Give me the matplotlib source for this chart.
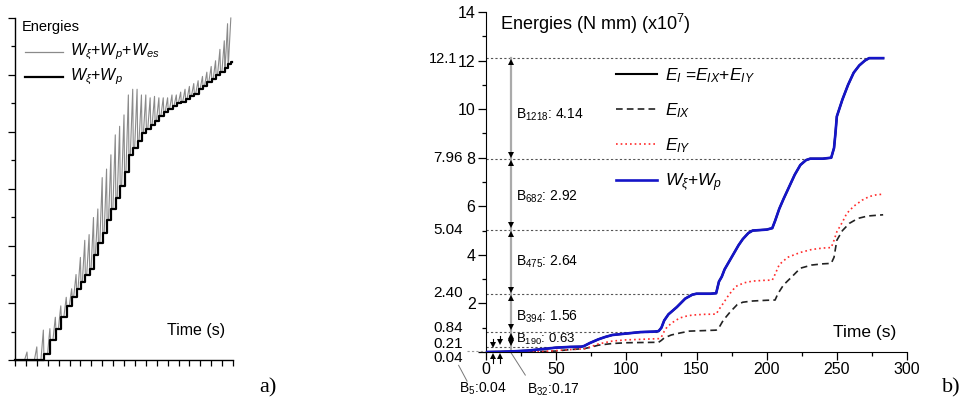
import matplotlib
matplotlib.use('Agg')
import matplotlib.pyplot as plt
from matplotlib.lines import Line2D
from matplotlib.ticker import MultipleLocator

plt.rcParams['font.family'] = ['Liberation Sans', 'DejaVu Sans']
plt.rcParams['mathtext.fontset'] = 'custom'
plt.rcParams['mathtext.rm'] = 'Liberation Sans'
plt.rcParams['mathtext.it'] = 'Liberation Sans:italic'
plt.rcParams['mathtext.bf'] = 'Liberation Sans:bold'

# ---------------- Panel a data (sawtooth cycles) ----------------
cyc_t = [1.1, 2.0, 2.6, 3.2, 3.7, 4.2, 4.7, 5.2, 5.6, 6.0, 6.4, 6.8, 7.2, 7.6,
         8.0, 8.4, 8.8, 9.2, 9.6, 10.0, 10.4, 10.8, 11.2, 11.6, 12.0, 12.4,
         12.8, 13.2, 13.6, 14.0, 14.4, 14.8, 15.2, 15.6, 16.0, 16.4, 16.8,
         17.2, 17.6, 18.0, 18.4, 18.8, 19.2, 19.5, 19.8]
cyc_peak = [0.28, 0.46, 1.05, 1.1, 1.5, 1.9, 2.2, 2.5, 3.0, 3.6, 4.2, 4.4, 5.0, 5.3,
            6.4, 6.7, 7.2, 7.9, 8.2, 8.6, 9.3, 9.5, 9.5, 9.3, 9.3, 9.2,
            9.25, 9.2, 9.2, 9.2, 9.3, 9.3, 9.4, 9.5, 9.6, 9.7, 9.8,
            9.95, 10.1, 10.3, 10.5, 10.9, 11.2, 11.8, 12.0]
cyc_base = [0.0, 0.0, 0.0, 0.2, 0.7, 1.1, 1.5, 1.9, 2.2, 2.5, 2.75, 3.0, 3.2, 3.7,
            4.1, 4.45, 4.9, 5.3, 5.7, 6.1, 6.6, 7.2, 7.45, 7.7, 7.95, 8.1,
            8.25, 8.4, 8.55, 8.7, 8.8, 8.9, 9.0, 9.05, 9.15, 9.25, 9.35,
            9.5, 9.6, 9.75, 9.85, 10.0, 10.1, 10.25, 10.4]
a_final_level = 10.45
a_end_t = 19.95

# ---------------- Panel b data ----------------
w_t = [0, 10, 20, 30, 40, 50, 60, 68, 70, 74, 80, 85, 90, 100, 110, 120, 123,
       125, 127, 130, 136, 142, 147, 150, 160, 164, 166, 168, 170, 175, 180,
       183, 187, 190, 200, 204, 206, 209, 212, 216, 220, 224, 228, 231, 240,
       246, 248, 249, 250, 254, 258, 262, 266, 270, 273, 283]
w_v = [0, 0.01, 0.03, 0.06, 0.12, 0.18, 0.21, 0.22, 0.25, 0.37, 0.52, 0.62,
       0.7, 0.76, 0.82, 0.84, 0.86, 1.0, 1.3, 1.55, 1.85, 2.2, 2.36, 2.40,
       2.40, 2.42, 2.9, 3.1, 3.4, 3.9, 4.4, 4.65, 4.9, 5.0, 5.04, 5.1, 5.4,
       5.9, 6.3, 6.8, 7.3, 7.7, 7.9, 7.96, 7.96, 8.0, 8.4, 9.0, 9.7, 10.4,
       11.0, 11.5, 11.8, 12.0, 12.1, 12.1]

iy_t = [0, 20, 40, 50, 60, 70, 74, 80, 90, 100, 110, 123, 125, 127, 129, 133,
        138, 143, 147, 155, 164, 166, 169, 173, 178, 184, 190, 198, 204, 206,
        209, 215, 224, 232, 240, 246, 248, 250, 254, 257, 262, 268, 273, 278,
        283]
iy_v = [0, 0.0, 0.02, 0.06, 0.1, 0.13, 0.2, 0.33, 0.45, 0.5, 0.52, 0.55, 0.62,
        0.85, 1.03, 1.22, 1.4, 1.48, 1.52, 1.55, 1.56, 1.75, 2.0, 2.35, 2.7,
        2.85, 2.92, 2.95, 2.96, 3.2, 3.6, 3.9, 4.1, 4.22, 4.28, 4.3, 4.6,
        4.95, 5.35, 5.7, 6.0, 6.25, 6.4, 6.47, 6.5]

ix_t = [0, 30, 50, 60, 70, 75, 80, 90, 100, 110, 123, 125, 127, 132, 138, 145,
        155, 164, 166, 169, 174, 179, 183, 190, 200, 206, 208, 212, 218, 224,
        232, 240, 246, 248, 250, 254, 259, 265, 272, 283]
ix_v = [0, 0.0, 0.04, 0.1, 0.14, 0.2, 0.28, 0.35, 0.38, 0.39, 0.4, 0.48, 0.58,
        0.7, 0.78, 0.86, 0.88, 0.9, 1.0, 1.3, 1.65, 1.95, 2.05, 2.1, 2.13,
        2.14, 2.4, 2.76, 3.1, 3.45, 3.58, 3.63, 3.65, 3.9, 4.6, 5.0, 5.3, 5.5,
        5.6, 5.65]

levels = [12.1, 7.96, 5.04, 2.40, 0.84, 0.21]
level_ends = [273, 231, 190, 147, 123, 69]
level_texts = ['12.1', '7.96', '5.04', '2.40', '0.84', '0.21', '0.04']
level_text_y = [12.05, 7.98, 5.02, 2.43, 0.99, 0.33, -0.25]

b_texts = [r'B$_{1218}$: 4.14', r'B$_{682}$: 2.92', r'B$_{475}$: 2.64',
           r'B$_{394}$: 1.56', r'B$_{190}$: 0.63']
b_text_y = [9.75, 6.38, 3.70, 1.44, 0.50]
b5_text = r'B$_5$:0.04'
b32_text = r'B$_{32}$:0.17'

b_xticks = [0, 50, 100, 150, 200, 250, 300]
b_yticks = [0, 2, 4, 6, 8, 10, 12, 14]

fig = plt.figure(figsize=(9.64, 4.11), dpi=100)

# ================= Panel a =================
axa = fig.add_axes([15/964, 1-360/411, 218/964, 342/411])
axa.set_xlim(0, 20)
axa.set_ylim(0, 12)
for s in ['top', 'right']:
    axa.spines[s].set_visible(False)
for s in ['left', 'bottom']:
    axa.spines[s].set_linewidth(1.0)

# build zigzag/staircase paths from cycle arrays
gx, gy = [0.0], [0.0]
bx, by = [0.0], [0.0]
n = len(cyc_t)
for i in range(n):
    t, p, b = cyc_t[i], cyc_peak[i], cyc_base[i]
    nb = cyc_base[i+1] if i + 1 < n else a_final_level
    gx += [t - 0.22, t]
    gy += [b, p]
    bx += [t + 0.05, t + 0.05]
    by += [b, nb]
    if i + 1 < n:
        gx += [t + 0.05]
        gy += [nb]
bx += [a_end_t]
by += [a_final_level]

axa.plot(gx, gy, color='#8a8a8a', lw=0.8, clip_on=False)
axa.plot(bx, by, color='black', lw=1.6, clip_on=False)

axa.xaxis.set_major_locator(MultipleLocator(1))
axa.yaxis.set_major_locator(MultipleLocator(2))
axa.yaxis.set_minor_locator(MultipleLocator(1))
axa.tick_params(axis='both', which='major', direction='out', length=5, width=0.9,
                labelleft=False, labelbottom=False)
axa.tick_params(axis='y', which='minor', direction='out', length=3, width=0.9)
axa.tick_params(axis='x', which='major', length=4)

axa.text(0.032, 0.975, 'Energies', transform=axa.transAxes, fontsize=10.5,
         ha='left', va='center')
axa.add_line(Line2D([0.046, 0.22], [0.90, 0.90], transform=axa.transAxes,
                    color='#8a8a8a', lw=0.9))
axa.add_line(Line2D([0.046, 0.22], [0.827, 0.827], transform=axa.transAxes,
                    color='black', lw=1.6))
axa.text(0.25, 0.90, r'$W_\xi$+$W_p$+$W_{es}$', transform=axa.transAxes,
         fontsize=11.5, ha='left', va='center')
axa.text(0.25, 0.827, r'$W_\xi$+$W_p$', transform=axa.transAxes,
         fontsize=11.5, ha='left', va='center')
axa.text(0.83, 0.085, 'Time (s)', transform=axa.transAxes, fontsize=11.5,
         ha='center', va='center')

fig.text(268/964, 1-388/411, 'a)', fontsize=16, family='Liberation Serif',
         ha='center', va='center')
fig.text(951/964, 1-388/411, 'b)', fontsize=16, family='Liberation Serif',
         ha='center', va='center')

# ================= Panel b =================
ax = fig.add_axes([486/964, 1-352/411, 421/964, 340/411])
ax.set_xlim(0, 300)
ax.set_ylim(0, 14)
for s in ['top', 'right']:
    ax.spines[s].set_visible(False)

# reference dotted lines
for lv, te in zip(levels, level_ends):
    ax.plot([0, te], [lv, lv], color='#555555', lw=0.8, ls=(0, (2, 2)), zorder=1)
ax.plot([-0.045, 0], [0.04, 0.04], transform=ax.get_yaxis_transform(),
        color='#999999', lw=0.8, ls=(0, (2, 2)), clip_on=False)

# vertical gray arrow line
ax.plot([18, 18], [0, 12.1], color='#aaaaaa', lw=1.6, zorder=2, clip_on=False)
tops = [12.1, 7.96, 5.04, 2.40, 0.84]
bots = [7.96, 5.04, 2.40, 0.84, 0.21]
for tp in tops:
    ax.plot(18, tp - 0.17, marker='^', color='black', ms=4, mew=0, zorder=5)
for bt in bots:
    ax.plot(18, bt + 0.17, marker='v', color='black', ms=4, mew=0, zorder=5)
ax.plot(18, 0.40, marker='v', color='black', ms=4, mew=0, zorder=5)
# small arrows near origin
for xx, yv in [(5, 0.30), (10, 0.40)]:
    ax.plot([xx, xx], [yv, yv + 0.25], color='black', lw=0.8, clip_on=False, zorder=5)
    ax.plot(xx, yv, marker='v', color='black', ms=4, mew=0, clip_on=False, zorder=5)
    ax.plot([xx, xx], [-0.2, -0.45], color='black', lw=0.8, clip_on=False, zorder=5)
    ax.plot(xx, -0.17, marker='^', color='black', ms=4, mew=0, clip_on=False, zorder=5)

# curves
ax.plot(w_t, w_v, color='black', lw=1.5, zorder=3)
ax.plot(ix_t, ix_v, color='#222222', lw=1.2, ls=(0, (4, 2.5)), zorder=3)
ax.plot(iy_t, iy_v, color='#ff2a2a', lw=1.2, ls=(0, (1, 1.8)), zorder=3)
ax.plot(w_t, w_v, color='#1515c8', lw=1.9, zorder=4)

# ticks
ax.set_xticks(b_xticks)
ax.xaxis.set_minor_locator(MultipleLocator(25))
ax.set_yticks(b_yticks)
ax.set_yticklabels([''] + [str(v) for v in b_yticks[1:]])
ax.yaxis.set_minor_locator(MultipleLocator(1))
ax.tick_params(axis='both', which='major', direction='out', length=5.5,
               width=0.9, labelsize=11.5, pad=2)
ax.tick_params(axis='both', which='minor', direction='out', length=3, width=0.9)

# left level labels
ytr = ax.get_yaxis_transform()
for k, (txt, yy) in enumerate(zip(level_texts, level_text_y)):
    xoff = -0.069 if k == 0 else -0.055
    ax.text(xoff, yy, txt, transform=ytr, ha='right', va='center',
            fontsize=11 if k else 10.5, clip_on=False)

# B labels
for txt, yy in zip(b_texts[:4], b_text_y[:4]):
    ax.text(21.5, yy, txt, ha='left', va='center', fontsize=10)
ax.text(21.5, b_text_y[4], b_texts[4], ha='left', va='center', fontsize=9.5)

ax.text(-2, -1.52, b5_text, ha='center', va='center', fontsize=10, clip_on=False)
ax.text(29, -1.56, b32_text, ha='left', va='center', fontsize=10, clip_on=False)
ax.plot([-19.5, -13.5], [-0.55, -1.2], color='#777777', lw=0.7, clip_on=False)
ax.plot([17.5, 28], [0.0, -0.95], color='#777777', lw=0.7, clip_on=False)

ax.text(0.033, 0.965, r'Energies (N mm) (x10$^7$)', transform=ax.transAxes,
        fontsize=13, ha='left', va='center')
ax.text(0.90, 0.056, 'Time (s)', transform=ax.transAxes, fontsize=12.5,
        ha='center', va='center')

handles = [Line2D([], [], color='black', lw=1.5),
           Line2D([], [], color='#222222', lw=1.2, ls=(0, (4, 2.5))),
           Line2D([], [], color='#ff2a2a', lw=1.2, ls=(0, (1, 1.8))),
           Line2D([], [], color='#1515c8', lw=1.9)]
labels = [r'$E_I$ =$E_{IX}$+$E_{IY}$', r'$E_{IX}$', r'$E_{IY}$', r'$W_\xi$+$W_p$']
ax.legend(handles, labels, loc='upper left',
          bbox_to_anchor=((616-486)/421, (352-66)/340), frameon=False,
          fontsize=12.5, handlelength=2.35, handletextpad=0.5,
          labelspacing=0.95, borderaxespad=0, borderpad=0)

fig.savefig('out.png', dpi=100)
